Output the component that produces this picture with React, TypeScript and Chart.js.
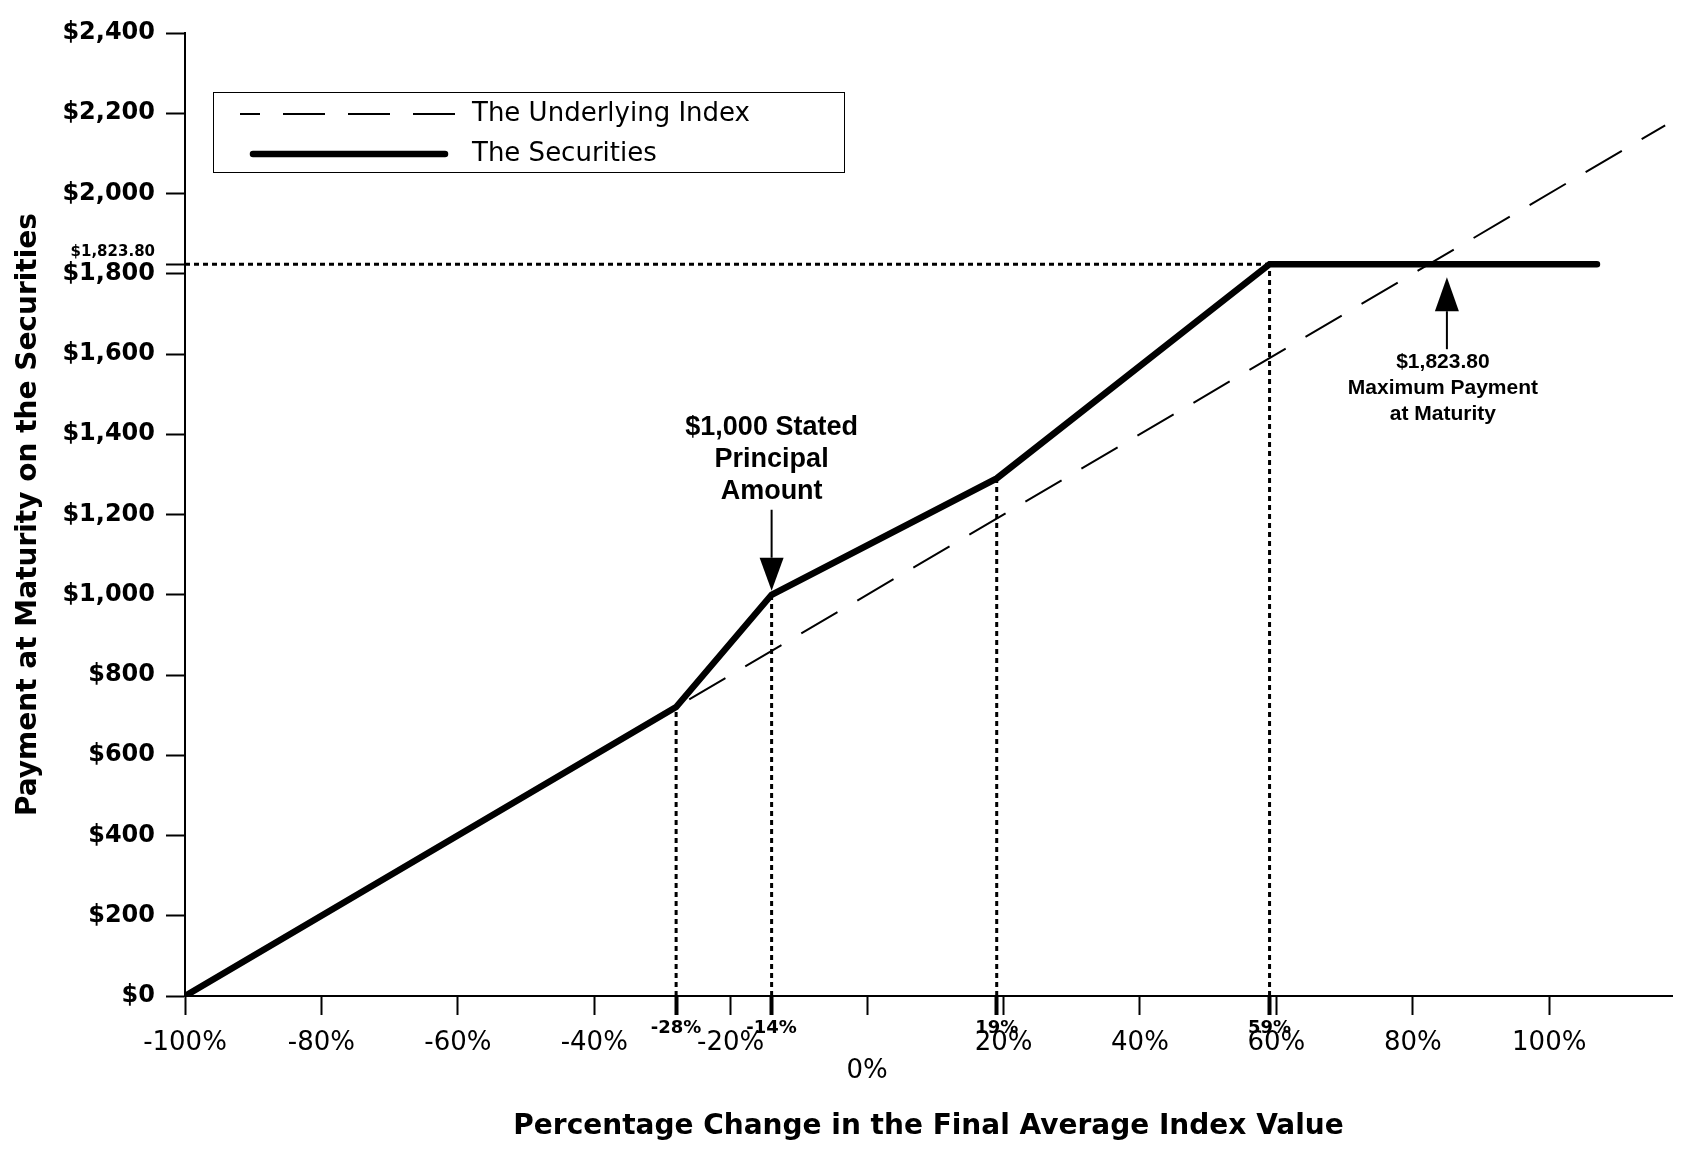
import React, { useEffect, useRef } from 'react';
import { Chart, registerables } from 'chart.js';

Chart.register(...registerables);

// percentage change in the final average index value (x) vs payment at maturity (y)
const securitiesX = [-100, -28, -14, 19, 59, 107];
const securitiesY = [0, 720, 1000, 1290, 1823.8, 1823.8];
const indexX = [-100, 117];
const indexY = [0, 2170];

const maxPayment = 1823.8;
const markerX = [-28, -14, 19, 59];
const markerY = [720, 1000, 1290, 1823.8];

const xTicks = [-100, -80, -60, -40, -28, -20, -14, 0, 19, 20, 40, 59, 60, 80, 100];
const yTicks = [0, 200, 400, 600, 800, 1000, 1200, 1400, 1600, 1800, 1823.8, 2000, 2200, 2400];

const principalArrowX = -14;
const principalLines = ['$1,000 Stated', 'Principal', 'Amount'];
const maxArrowX = 85;
const maxLines = ['$1,823.80', 'Maximum Payment', 'at Maturity'];

const legendItems = ['The Underlying Index', 'The Securities'];

const dotted = [5, 4];

const toPoints = (xs: number[], ys: number[]) => xs.map((x, i) => ({ x, y: ys[i] }));

const drawArrow = (ctx: CanvasRenderingContext2D, x: number, tipY: number, dir: number, head: number, half: number, shaft: number) => {
  // dir = 1 points down, -1 points up
  ctx.beginPath();
  ctx.moveTo(x, tipY - dir * head);
  ctx.lineTo(x, tipY - dir * shaft);
  ctx.lineWidth = 2;
  ctx.stroke();
  ctx.beginPath();
  ctx.moveTo(x, tipY);
  ctx.lineTo(x - half, tipY - dir * head);
  ctx.lineTo(x + half, tipY - dir * head);
  ctx.closePath();
  ctx.fill();
};

const annotations = {
  id: 'annotations',
  afterDatasetsDraw(chart: any) {
    const { ctx, chartArea, scales } = chart;
    const xs = scales.x;
    const ys = scales.y;
    ctx.save();
    ctx.fillStyle = '#000';
    ctx.strokeStyle = '#000';

    // legend box
    const bx = chartArea.left + 28;
    const by = chartArea.top + 59;
    ctx.fillStyle = '#fff';
    ctx.fillRect(bx, by, 631, 80);
    ctx.lineWidth = 1;
    ctx.strokeRect(bx + 0.5, by + 0.5, 631, 80);
    ctx.fillStyle = '#000';

    ctx.beginPath();
    ctx.setLineDash([42, 23]);
    ctx.lineDashOffset = 22;
    ctx.lineWidth = 2;
    ctx.moveTo(bx + 27, by + 22);
    ctx.lineTo(bx + 242, by + 22);
    ctx.stroke();
    ctx.setLineDash([]);
    ctx.lineDashOffset = 0;

    ctx.beginPath();
    ctx.lineWidth = 6.5;
    ctx.lineCap = 'round';
    ctx.moveTo(bx + 40, by + 62);
    ctx.lineTo(bx + 232, by + 62);
    ctx.stroke();
    ctx.lineCap = 'butt';

    ctx.font = '26px "DejaVu Sans"';
    ctx.textAlign = 'left';
    ctx.textBaseline = 'middle';
    ctx.fillText(legendItems[0], bx + 259, by + 22);
    ctx.fillText(legendItems[1], bx + 259, by + 62);

    // $1,000 stated principal amount
    const px = xs.getPixelForValue(principalArrowX);
    const pTip = ys.getPixelForValue(1000) - 4;
    drawArrow(ctx, px, pTip, 1, 33, 12, 81);
    ctx.font = 'bold 27px "Liberation Sans"';
    ctx.textAlign = 'center';
    principalLines.forEach((t, i) => ctx.fillText(t, px, pTip - 163 + i * 32));

    // maximum payment at maturity
    const mx = xs.getPixelForValue(maxArrowX);
    const mTip = ys.getPixelForValue(maxPayment) + 13;
    drawArrow(ctx, mx, mTip, -1, 34, 12, 72);
    ctx.font = 'bold 21px "Liberation Sans"';
    maxLines.forEach((t, i) => ctx.fillText(t, mx - 4, mTip + 85 + i * 26));

    ctx.restore();
  },
};

const App: React.FC = () => {
  const chartRef = useRef<HTMLCanvasElement>(null);

  useEffect(() => {
    document.body.style.margin = '0';
    document.body.style.overflow = 'hidden';
    if (!chartRef.current) return;

    const lineBase = { borderColor: '#000', pointRadius: 0, fill: false, tension: 0 };
    const markers = markerX.map((x, i) => ({
      ...lineBase,
      label: `marker ${x}`,
      data: [{ x, y: 0 }, { x, y: markerY[i] }],
      borderWidth: 3,
      borderDash: dotted,
      order: 3,
    }));

    const chart = new Chart(chartRef.current, {
      type: 'line',
      data: {
        datasets: [
          {
            ...lineBase,
            label: legendItems[1],
            data: toPoints(securitiesX, securitiesY),
            borderWidth: 6.5,
            borderCapStyle: 'round',
            borderJoinStyle: 'miter',
            order: 0,
          },
          {
            ...lineBase,
            label: legendItems[0],
            data: toPoints(indexX, indexY),
            borderWidth: 2,
            borderDash: [42, 23],
            order: 1,
          },
          {
            ...lineBase,
            label: 'max payment',
            data: [{ x: -100, y: maxPayment }, { x: 59, y: maxPayment }],
            borderWidth: 3,
            borderDash: dotted,
            order: 2,
          },
          ...markers,
        ],
      } as any,
      options: {
        animation: false,
        responsive: true,
        maintainAspectRatio: false,
        layout: { padding: { top: 33, right: 9, bottom: 0, left: 0 } },
        plugins: {
          legend: { display: false },
          tooltip: { enabled: false },
        },
        scales: {
          x: {
            type: 'linear',
            min: -100,
            max: 118,
            afterBuildTicks: (scale: any) => {
              scale.ticks = xTicks.map((value) => ({ value }));
            },
            afterFit: (scale: any) => {
              scale.height = 159;
            },
            grid: {
              drawOnChartArea: false,
              drawTicks: true,
              tickLength: 19,
              tickColor: '#000',
              tickWidth: (c: any) => (c.tick && markerX.includes(c.tick.value) ? 4 : 2),
            },
            border: { display: true, color: '#000', width: 2 },
            ticks: {
              autoSkip: false,
              maxRotation: 0,
              minRotation: 0,
              padding: 2,
              color: '#000',
              callback: (v: any) => (v === 0 ? ['', '0%'] : `${v}%`),
              font: (c: any) => {
                const v = c.tick ? c.tick.value : null;
                if (markerX.includes(v)) return { family: 'DejaVu Sans', size: 18, weight: 'bold', lineHeight: 1.22 };
                if (v === 0) return { family: 'DejaVu Sans', size: 26, lineHeight: 1.4 };
                return { family: 'DejaVu Sans', size: 26, lineHeight: 2 };
              },
            },
            title: {
              display: true,
              text: 'Percentage Change in the Final Average Index Value',
              color: '#000',
              font: { family: 'DejaVu Sans', size: 28, weight: 'bold' },
              padding: { top: 0, bottom: 11 },
            },
          },
          y: {
            type: 'linear',
            min: 0,
            max: 2400,
            afterBuildTicks: (scale: any) => {
              scale.ticks = yTicks.map((value) => ({ value }));
            },
            afterFit: (scale: any) => {
              scale.width = 185;
            },
            grid: {
              drawOnChartArea: false,
              drawTicks: true,
              tickLength: 19,
              tickColor: '#000',
              tickWidth: 2,
            },
            border: { display: true, color: '#000', width: 2 },
            ticks: {
              autoSkip: false,
              padding: 11,
              color: '#000',
              callback: (v: any) =>
                v === maxPayment ? ['$1,823.80', ''] : '$' + Number(v).toLocaleString('en-US'),
              font: (c: any) =>
                c.tick && c.tick.value === maxPayment
                  ? { family: 'DejaVu Sans', size: 15, weight: 'bold', lineHeight: 1.6 }
                  : { family: 'DejaVu Sans', size: 24, weight: 'bold' },
            },
            title: {
              display: true,
              text: 'Payment at Maturity on the Securities',
              color: '#000',
              font: { family: 'DejaVu Sans', size: 28, weight: 'bold' },
              padding: { top: 12, bottom: 0 },
            },
          },
        },
      },
      plugins: [annotations],
    });

    return () => {
      chart.destroy();
    };
  }, []);

  return (
    <div style={{ width: 1681, height: 1155, background: '#fff' }}>
      <canvas ref={chartRef} />
    </div>
  );
};

export default App;
